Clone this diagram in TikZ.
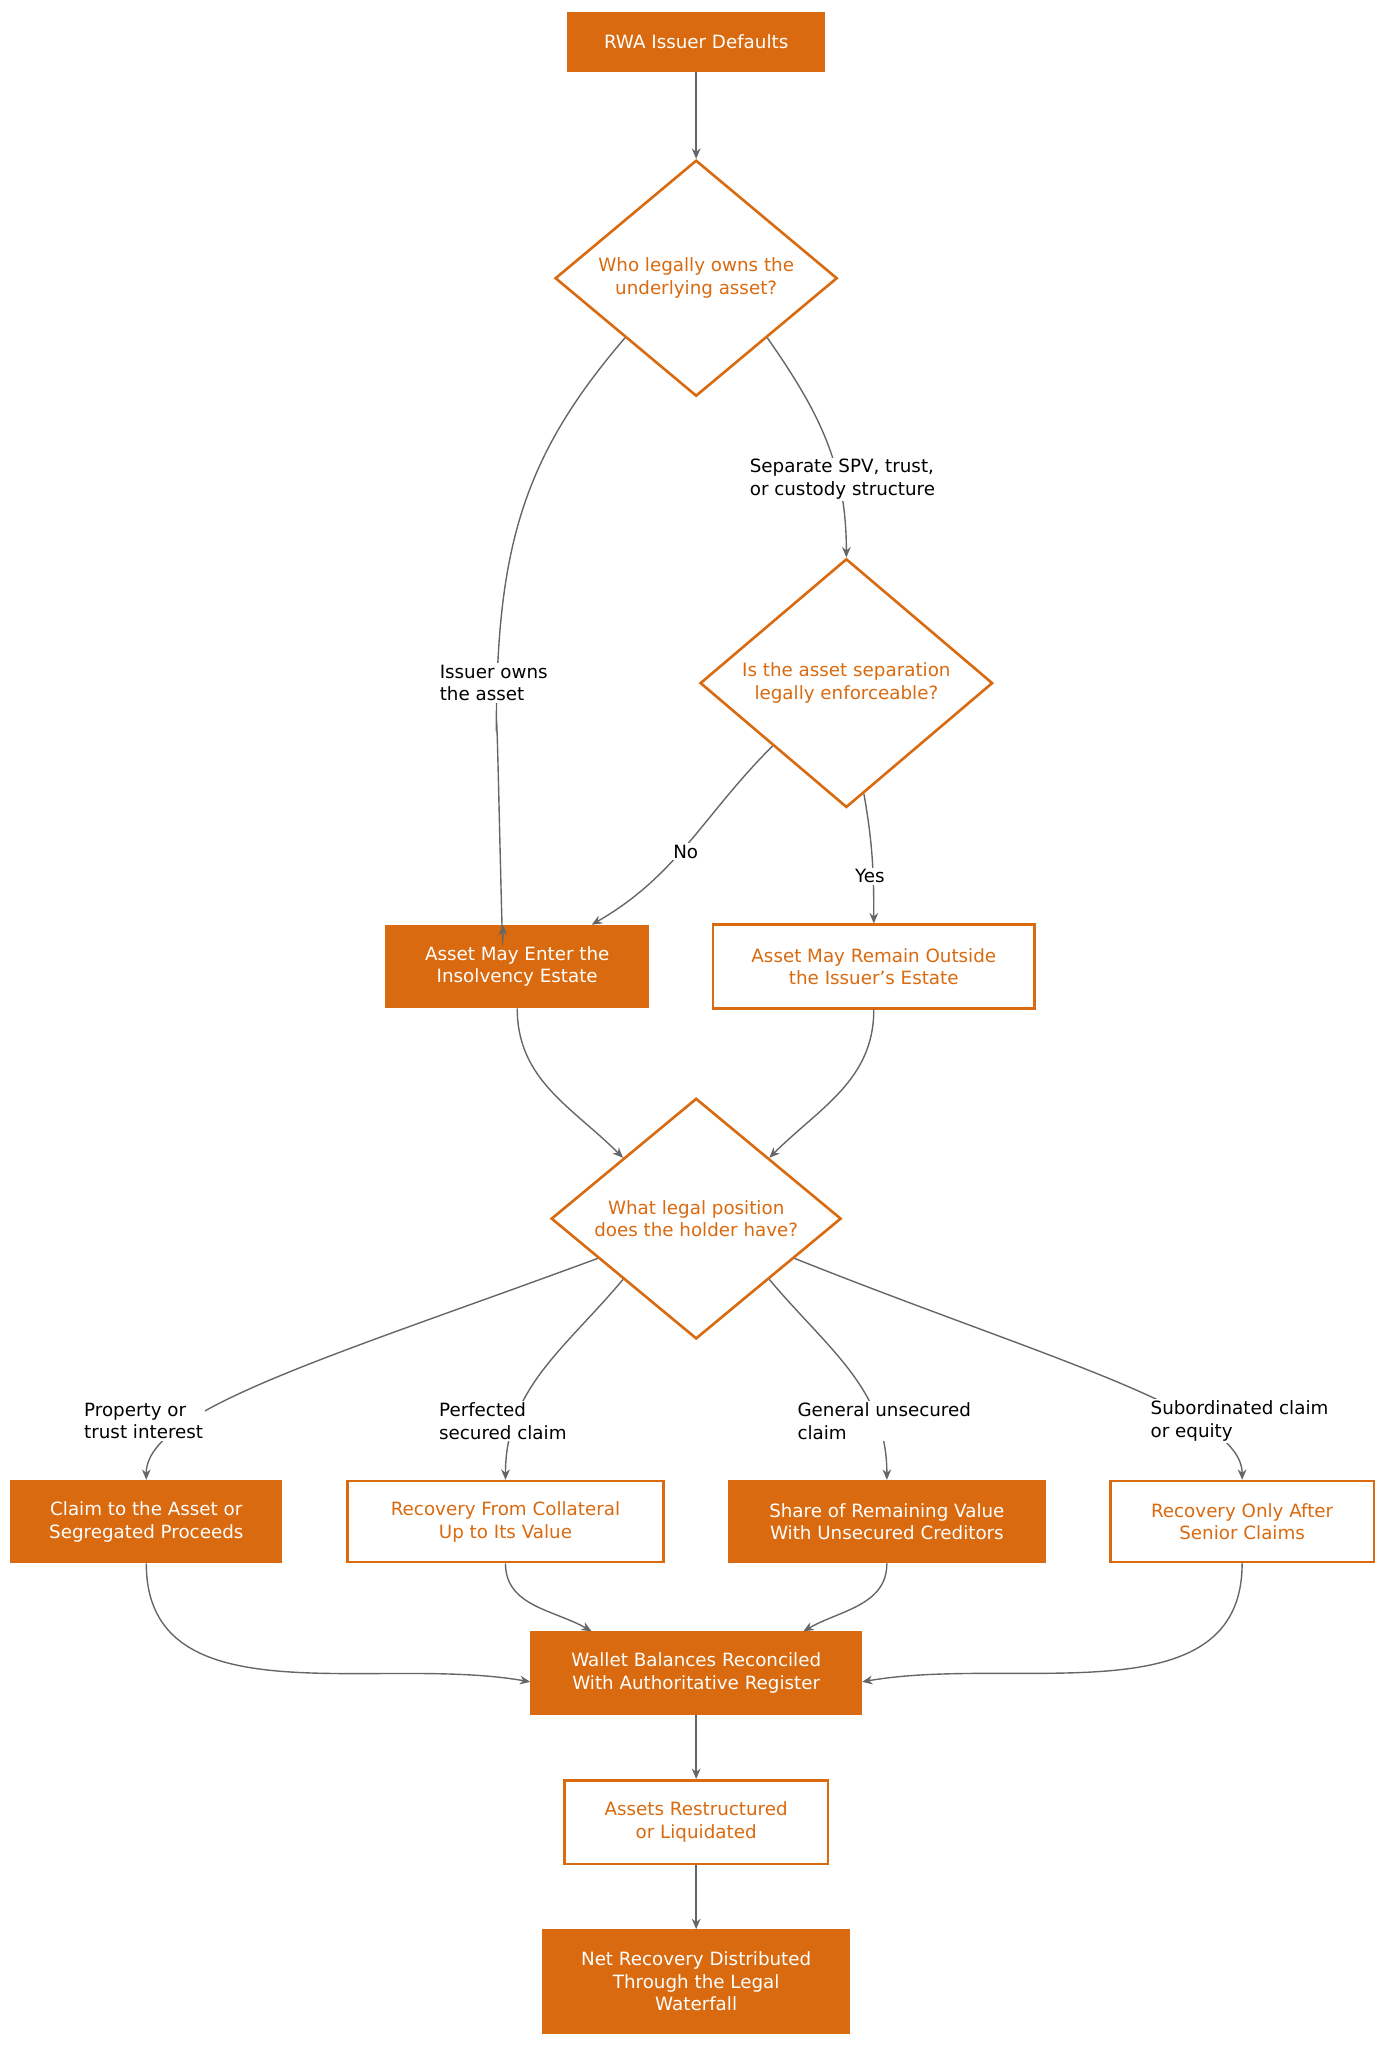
\documentclass[tikz,border=0pt]{standalone}
\usepackage{fontspec}
\setmainfont{DejaVu Sans}
\usetikzlibrary{shapes.geometric,arrows.meta}
\definecolor{rwaorange}{RGB}{217,106,15}
\definecolor{linkgray}{RGB}{102,102,102}
\tikzset{every picture/.style={line width=0.75pt}}
\tikzset{
  base/.style={font=\fontsize{10.5}{13}\selectfont, align=center, inner sep=0pt},
  solidbox/.style={base, rectangle, fill=rwaorange, draw=rwaorange, line width=1.5pt, text=white},
  openbox/.style={base, rectangle, fill=white, draw=rwaorange, line width=1.5pt, text=rwaorange},
  decide/.style={base, diamond, aspect=1, fill=white, draw=rwaorange, line width=1.5pt, text=rwaorange},
  link/.style={draw=linkgray, line width=0.8pt, -{Stealth[length=6pt,width=5pt]}},
  tag/.style={font=\fontsize{10.5}{13}\selectfont, align=left, fill=white, inner sep=1pt, text=black}
}
\begin{document}
\begin{tikzpicture}[x=0.75pt,y=-0.75pt]
	\useasboundingbox (0,0) rectangle (1060,1568);

	% decisions and outcomes
	\node[solidbox, minimum width=147pt, minimum height=33pt] (start) at (533,32) {RWA Issuer Defaults};
	\node[decide, minimum width=162pt] (owner) at (533,213) {Who legally owns the\\underlying asset?};
	\node[decide, minimum width=168pt] (enforce) at (648,523) {Is the asset separation\\legally enforceable?};
	\node[solidbox, minimum width=150pt, minimum height=46.5pt] (estate) at (396,740) {Asset May Enter the\\Insolvency Estate};
	\node[openbox, minimum width=184.5pt, minimum height=48pt] (outside) at (669,740) {Asset May Remain Outside\\the Issuer's Estate};
	\node[decide, minimum width=166.5pt] (position) at (533,933) {What legal position\\does the holder have?};
	\node[solidbox, minimum width=154.5pt, minimum height=46.5pt] (claim) at (112,1165) {Claim to the Asset or\\Segregated Proceeds};
	\node[openbox, minimum width=181.5pt, minimum height=46.5pt] (collat) at (387,1165) {Recovery From Collateral\\Up to Its Value};
	\node[solidbox, minimum width=181.5pt, minimum height=46.5pt] (share) at (679,1165) {Share of Remaining Value\\With Unsecured Creditors};
	\node[openbox, minimum width=151.5pt, minimum height=46.5pt] (senior) at (951,1165) {Recovery Only After\\Senior Claims};
	\node[solidbox, minimum width=189pt, minimum height=46.5pt] (wallet) at (533,1281) {Wallet Balances Reconciled\\With Authoritative Register};
	\node[openbox, minimum width=151.5pt, minimum height=48pt] (liquid) at (533,1395) {Assets Restructured\\or Liquidated};
	\node[solidbox, minimum width=175.5pt, minimum height=58.5pt] (net) at (533,1517) {Net Recovery Distributed\\Through the Legal\\Waterfall};

	% connectors
	\draw[link] (start) -- (owner);
	\draw[link] (owner.south west) .. controls (400,350) and (380,420) .. (380,560) to[out=90,in=-90] ([xshift=-8.25pt]estate.north);
	\draw[link] (owner.south east) to[out=-55,in=90] (enforce.north);
	\draw[link] (enforce.south west) to[out=-135,in=30] ([xshift=42.75pt]estate.north);
	\draw[link] (enforce.-81) to[out=-80,in=90] (outside.north);
	\draw[link] (estate.south) to[out=-90,in=135] (position.north west);
	\draw[link] (outside.south) to[out=-90,in=45] (position.north east);
	\draw[link] (position.-158) .. controls (250,1040) and (112,1080) .. (claim.north);
	\draw[link] (position.south west) to[out=-130,in=90] (collat.north);
	\draw[link] (position.south east) to[out=-50,in=90] (share.north);
	\draw[link] (position.-22) .. controls (800,1040) and (951,1080) .. (senior.north);
	\draw[link] (claim.south) to[out=-90,in=170] ([yshift=-5pt]wallet.west);
	\draw[link] (collat.south) to[out=-90,in=150] ([xshift=-60pt]wallet.north);
	\draw[link] (share.south) to[out=-90,in=30] ([xshift=61.5pt]wallet.north);
	\draw[link] (senior.south) to[out=-90,in=10] ([yshift=-5pt]wallet.east);
	\draw[link] (wallet) -- (liquid);
	\draw[link] (liquid) -- (net);

	% edge labels
	\node[tag] (lissuer) at (378,523) {Issuer owns\\the asset};
	\node[tag] (lsep) at (645,367) {Separate SPV, trust,\\or custody structure};
	\node[tag] (lno) at (525,652) {No};
	\node[tag] (lyes) at (666,671) {Yes};
	\node[tag] (lprop) at (110,1088) {Property or\\trust interest};
	\node[tag] (lperf) at (385,1088) {Perfected\\secured claim};
	\node[tag] (lgen) at (677,1088) {General unsecured\\claim};
	\node[tag] (lsub) at (949,1088) {Subordinated claim\\or equity};
\end{tikzpicture}
\end{document}
